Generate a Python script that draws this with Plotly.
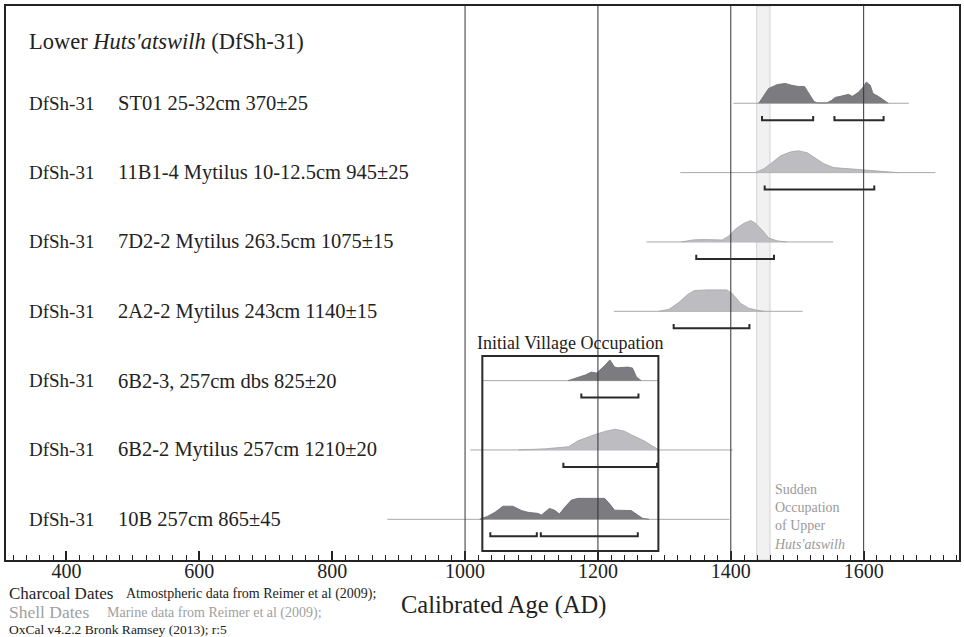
import plotly.graph_objects as go

# ---------------- data ----------------
TITLE = "Lower <i>Huts'atswilh</i> (DfSh-31)"
SITE = "DfSh-31"
SAMPLES = [
    "ST01 25-32cm 370±25",
    "11B1-4 Mytilus 10-12.5cm 945±25",
    "7D2-2 Mytilus 263.5cm 1075±15",
    "2A2-2 Mytilus 243cm 1140±15",
    "6B2-3, 257cm dbs 825±20",
    "6B2-2 Mytilus 257cm 1210±20",
    "10B 257cm 865±45",
]
MATERIAL = ["charcoal", "shell", "shell", "shell", "charcoal", "shell", "charcoal"]

# calibrated probability (relative) vs calendar year AD
yr_st01 = [1442, 1450, 1457, 1470, 1482, 1492, 1502, 1511, 1517, 1525, 1530, 1545, 1552, 1557,
           1565, 1572, 1577, 1583, 1592, 1600, 1604, 1610, 1614, 1622, 1630, 1637]
p_st01 = [0, 0.36, 0.68, 0.86, 0.91, 0.82, 0.77, 0.77, 0.45, 0.09, 0.02, 0.02, 0.14, 0.27,
          0.32, 0.36, 0.41, 0.32, 0.5, 0.77, 0.97, 0.82, 0.45, 0.32, 0.14, 0]

yr_11b14 = [1437, 1450, 1460, 1475, 1490, 1502, 1515, 1527, 1540, 1555, 1575, 1595, 1615, 1635, 1652]
p_11b14 = [0, 0.18, 0.41, 0.77, 0.95, 1.0, 0.91, 0.68, 0.41, 0.23, 0.18, 0.14, 0.09, 0.05, 0]

yr_7d22 = [1325, 1345, 1364, 1387, 1397, 1407, 1420, 1430, 1437, 1447, 1457, 1470, 1484]
p_7d22 = [0, 0.1, 0.11, 0.09, 0.27, 0.59, 0.86, 0.98, 0.86, 0.55, 0.18, 0.05, 0]

yr_2a22 = [1292, 1307, 1322, 1335, 1345, 1364, 1394, 1402, 1415, 1427, 1440, 1450]
p_2a22 = [0, 0.09, 0.41, 0.77, 0.95, 0.98, 0.98, 0.82, 0.36, 0.14, 0.05, 0]

yr_6b23 = [1155, 1170, 1182, 1190, 1198, 1210, 1218, 1225, 1230, 1245, 1252, 1258, 1265]
p_6b23 = [0, 0.14, 0.27, 0.39, 0.35, 0.68, 0.95, 0.62, 0.59, 0.62, 0.58, 0.17, 0]

yr_6b22 = [1080, 1120, 1156, 1170, 1198, 1212, 1226, 1240, 1250, 1270, 1282, 1292]
p_6b22 = [0, 0.05, 0.15, 0.42, 0.73, 0.86, 0.95, 0.86, 0.7, 0.41, 0.18, 0]

yr_10b = [1022, 1034, 1045, 1057, 1072, 1085, 1095, 1110, 1115, 1127, 1135, 1142, 1150, 1160,
          1170, 1210, 1217, 1225, 1250, 1257, 1267, 1277]
p_10b = [0, 0.14, 0.32, 0.6, 0.6, 0.4, 0.32, 0.27, 0.2, 0.5, 0.41, 0.24, 0.55, 0.88,
         0.96, 0.96, 0.73, 0.42, 0.4, 0.27, 0.05, 0]

DIST_YEARS = [yr_st01, yr_11b14, yr_7d22, yr_2a22, yr_6b23, yr_6b22, yr_10b]
DIST_PROB = [p_st01, p_11b14, p_7d22, p_2a22, p_6b23, p_6b22, p_10b]

# extent of the calibration baseline for each row
BASE_EXTENT = [(1404, 1668), (1324, 1708), (1273, 1554), (1224, 1508),
               (1027, 1292), (1008, 1403), (883, 1398)]

# 95.4% ranges
RANGES = [
    [(1447, 1524), (1556, 1630)],
    [(1451, 1616)],
    [(1348, 1465)],
    [(1314, 1428)],
    [(1175, 1261)],
    [(1148, 1289)],
    [(1038, 1108), (1114, 1260)],
]

REF_LINES = [1000, 1200, 1400, 1600]
BAND = (1439, 1459)
VILLAGE = (1026, 1291)
TICKS = [400, 600, 800, 1000, 1200, 1400, 1600]

# ---------------- style ----------------
FONT = "Liberation Serif"
FILL = {"charcoal": "#7c7c80", "shell": "#bdbdc1"}
EDGE = {"charcoal": "#6a6a6e", "shell": "#a4a4a8"}
PEAK = 0.315
BR_Y = 0.245
BR_TICK = 0.06
X0, X1 = 309, 1743.5
Y0, Y1 = -7.587, 0.403

fig = go.Figure()

shapes = []
# grey band (behind)
shapes.append(dict(type="rect", xref="x", yref="paper", x0=BAND[0], x1=BAND[1], y0=0, y1=1,
                   fillcolor="#f1f1f1", line=dict(color="#d2d2d2", width=1), layer="below"))

for i in range(len(SAMPLES)):
    base = -(i + 1)
    xb0, xb1 = BASE_EXTENT[i]
    fig.add_trace(go.Scatter(x=[xb0, xb1], y=[base, base], mode="lines",
                             line=dict(color="#a8a8a8", width=1), hoverinfo="skip"))
    ys = [base + p * PEAK for p in DIST_PROB[i]]
    fig.add_trace(go.Scatter(x=DIST_YEARS[i], y=ys, mode="lines", fill="toself",
                             fillcolor=FILL[MATERIAL[i]],
                             line=dict(color=EDGE[MATERIAL[i]], width=0.8), hoverinfo="skip"))
    for (a, b) in RANGES[i]:
        yb = base - BR_Y
        fig.add_trace(go.Scatter(x=[a, a, b, b], y=[yb + BR_TICK, yb, yb, yb + BR_TICK],
                                 mode="lines", line=dict(color="#2a2a2a", width=2),
                                 hoverinfo="skip"))

for v in REF_LINES:
    shapes.append(dict(type="line", xref="x", yref="paper", x0=v, x1=v, y0=0, y1=1,
                       line=dict(color="#333333", width=1), layer="above"))

shapes.append(dict(type="rect", xref="x", yref="y", x0=VILLAGE[0], x1=VILLAGE[1],
                   y0=-7.457, y1=-4.645, line=dict(color="#2a2a2a", width=2),
                   fillcolor="rgba(0,0,0,0)", layer="above"))

ann = []
def px2paper(px):
    return (px - 6) / 955.0

ann.append(dict(text=TITLE, xref="paper", yref="y", x=px2paper(27), y=-0.116,
                xanchor="left", yanchor="middle", showarrow=False,
                font=dict(size=22.5, family=FONT, color="#222")))
for i, s in enumerate(SAMPLES):
    base = -(i + 1)
    ann.append(dict(text=SITE, xref="paper", yref="y", x=px2paper(27), y=base,
                    xanchor="left", yanchor="middle", showarrow=False,
                    font=dict(size=19, family=FONT, color="#222")))
    ann.append(dict(text=s, xref="paper", yref="y", x=px2paper(116), y=base,
                    xanchor="left", yanchor="middle", showarrow=False,
                    font=dict(size=20.5, family=FONT, color="#222")))

ann.append(dict(text="Initial Village Occupation", xref="x", yref="y",
                x=(VILLAGE[0] + VILLAGE[1]) / 2, y=-4.457, xanchor="center", yanchor="middle",
                showarrow=False, font=dict(size=18, family=FONT, color="#222")))
ann.append(dict(text="Sudden<br>Occupation<br>of Upper<br><i>Huts'atswilh</i>", xref="x", yref="y",
                x=1462, y=-6.97, xanchor="left", yanchor="middle", align="left",
                showarrow=False, font=dict(size=14, family=FONT, color="#9a9a9a")))

def py2paper(py):
    return (560 - py) / 554.0

ann.append(dict(text="Calibrated Age (AD)", xref="paper", yref="paper", x=px2paper(505),
                y=py2paper(605), xanchor="center", yanchor="middle", showarrow=False,
                font=dict(size=24.5, family=FONT, color="#222")))
ann.append(dict(text="Charcoal Dates", xref="paper", yref="paper", x=px2paper(7),
                y=py2paper(593), xanchor="left", yanchor="middle", showarrow=False,
                font=dict(size=17, family=FONT, color="#222")))
ann.append(dict(text="Atmostpheric data from Reimer et al (2009);", xref="paper", yref="paper",
                x=px2paper(124), y=py2paper(594), xanchor="left", yanchor="middle",
                showarrow=False, font=dict(size=14, family=FONT, color="#222")))
ann.append(dict(text="Shell Dates", xref="paper", yref="paper", x=px2paper(7),
                y=py2paper(612), xanchor="left", yanchor="middle", showarrow=False,
                font=dict(size=17.5, family=FONT, color="#a0a0a0")))
ann.append(dict(text="Marine data from Reimer et al (2009);", xref="paper", yref="paper",
                x=px2paper(105), y=py2paper(613), xanchor="left", yanchor="middle",
                showarrow=False, font=dict(size=14, family=FONT, color="#a0a0a0")))
ann.append(dict(text="OxCal v4.2.2 Bronk Ramsey (2013); r:5", xref="paper", yref="paper",
                x=px2paper(7), y=py2paper(629), xanchor="left", yanchor="middle",
                showarrow=False, font=dict(size=13.5, family=FONT, color="#222")))

fig.update_layout(
    width=964, height=637,
    margin=dict(l=6, r=3, t=6, b=77),
    plot_bgcolor="white", paper_bgcolor="white",
    showlegend=False,
    font=dict(family=FONT, color="#222"),
    shapes=shapes, annotations=ann,
    xaxis=dict(range=[X0, X1], tickvals=TICKS, ticktext=[str(t) for t in TICKS],
               ticks="inside", ticklen=9, tickwidth=2, tickcolor="#222",
               minor=dict(dtick=20, tick0=0, ticks="inside", ticklen=5, tickwidth=1,
                          tickcolor="#222"),
               showline=True, linewidth=2, linecolor="#222", mirror=True,
               showgrid=False, zeroline=False, tickfont=dict(size=20, family=FONT, color="#222"),
               ticklabelstandoff=-8, fixedrange=True),
    yaxis=dict(range=[Y0, Y1], showticklabels=False, ticks="", showline=True, linewidth=2,
               linecolor="#222", mirror=True, showgrid=False, zeroline=False, fixedrange=True),
)

fig.write_html("out.html", config={"displayModeBar": False},
               post_script="document.body.style.margin='0';document.body.style.overflow='hidden';")
